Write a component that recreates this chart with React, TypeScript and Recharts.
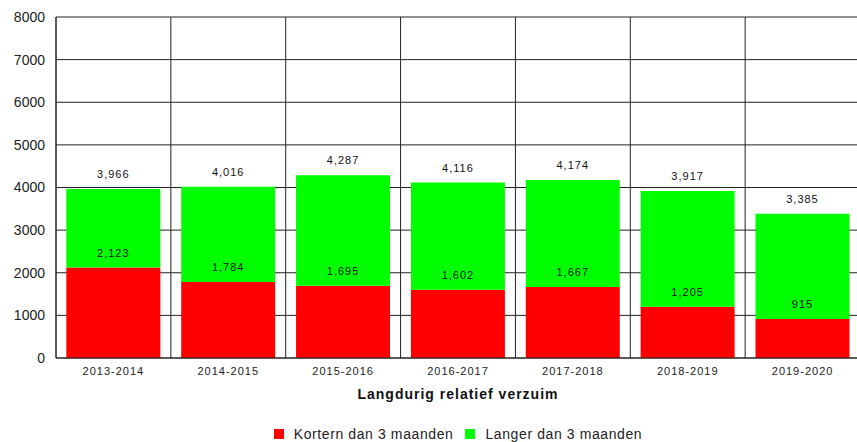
import React from 'react';
import { BarChart, Bar, XAxis, YAxis, CartesianGrid, Legend, LabelList, Label } from 'recharts';

// schooljaren
const jaren = ['2013-2014', '2014-2015', '2015-2016', '2016-2017', '2017-2018', '2018-2019', '2019-2020'];
// rode deel (korter dan 3 maanden)
const korter = [2123, 1784, 1695, 1602, 1667, 1205, 915];
// groene deel (langer dan 3 maanden)
const langer = [1843, 2232, 2592, 2514, 2507, 2712, 2470];
// totaal boven de staaf
const totaal = [3966, 4016, 4287, 4116, 4174, 3917, 3385];
const yTicks = [0, 1000, 2000, 3000, 4000, 5000, 6000, 7000, 8000];

const data = jaren.map((jaar, i) => ({
  jaar,
  korter: korter[i],
  langer: langer[i],
  totaal: totaal[i],
}));

const FONT = "Arial, 'Liberation Sans', sans-serif";
const fmt = (v: any) => Number(v).toLocaleString('en-US');

const LegendContent = ({ payload }: any) => (
  <div style={{ textAlign: 'center', fontFamily: FONT, fontSize: 14, letterSpacing: 0.6, color: '#222', lineHeight: '16px' }}>
    {(payload || []).map((p: any, i: number) => (
      <span key={p.value} style={{ display: 'inline-flex', alignItems: 'center', marginLeft: i === 0 ? 0 : 12 }}>
        <span style={{ display: 'inline-block', width: 10, height: 10, background: p.color, marginRight: 10 }} />
        {p.value}
      </span>
    ))}
  </div>
);

export default function App() {
  return (
    <div style={{ position: 'absolute', left: 0, top: 0, width: 857, height: 442, overflow: 'hidden', background: '#fff' }}>
      <BarChart
        width={860}
        height={442}
        data={data}
        margin={{ top: 17, right: 0, left: 0, bottom: 23 }}
        barCategoryGap="9%"
      >
        <CartesianGrid
          stroke="#222"
          strokeWidth={1}
          verticalCoordinatesGenerator={({ offset }: any) =>
            Array.from({ length: jaren.length + 1 }, (_, i) => offset.left + (i * offset.width) / jaren.length)
          }
        />
        <XAxis
          dataKey="jaar"
          height={45}
          tickLine={false}
          axisLine={{ stroke: '#222' }}
          tickMargin={3}
          tick={{ fontSize: 11, fontFamily: FONT, fill: '#222', letterSpacing: 1 }}
        >
          <Label
            value="Langdurig relatief verzuim"
            position="insideBottom"
            offset={4}
            style={{ fontSize: 14, fontWeight: 'bold', fontFamily: FONT, fill: '#111', letterSpacing: 1 }}
          />
        </XAxis>
        <YAxis
          width={56}
          domain={[0, 8000]}
          ticks={yTicks}
          tickLine={false}
          axisLine={{ stroke: '#222' }}
          tickMargin={5}
          tick={{ fontSize: 14, fontFamily: FONT, fill: '#222' }}
        />
        <Legend
          verticalAlign="bottom"
          content={<LegendContent />}
          wrapperStyle={{ left: 56, width: 804, top: 426 }}
        />
        <Bar dataKey="korter" name="Kortern dan 3 maanden" stackId="a" fill="#ff0000" isAnimationActive={false}>
          <LabelList dataKey="korter" position="top" offset={11} formatter={fmt}
            style={{ fontSize: 11, fontFamily: FONT, fill: '#111', letterSpacing: 1 }} />
        </Bar>
        <Bar dataKey="langer" name="Langer dan 3 maanden" stackId="a" fill="#00ff00" isAnimationActive={false}>
          <LabelList dataKey="totaal" position="top" offset={11} formatter={fmt}
            style={{ fontSize: 11, fontFamily: FONT, fill: '#111', letterSpacing: 1 }} />
        </Bar>
      </BarChart>
    </div>
  );
}
